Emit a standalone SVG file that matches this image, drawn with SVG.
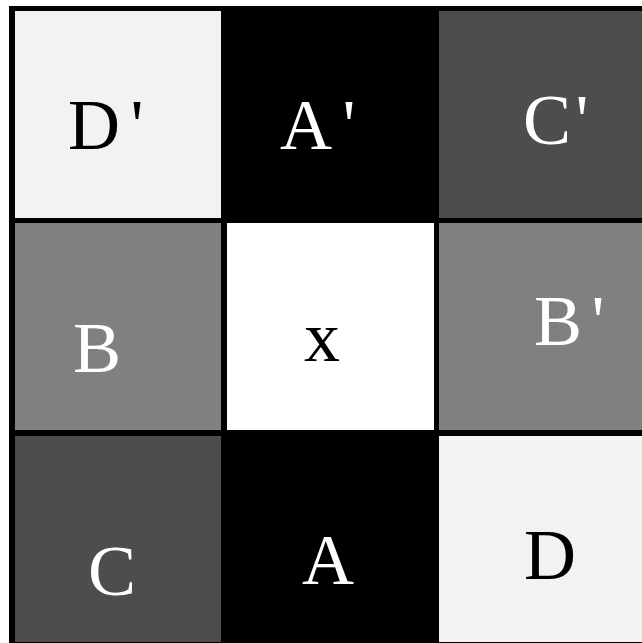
<svg xmlns="http://www.w3.org/2000/svg" width="642" height="643" viewBox="0 0 642 643">
<style>
text{font-family:"Liberation Serif","DejaVu Serif",serif;font-size:72px;text-anchor:middle}
.lt{fill:#f2f2f2}.dk{fill:#4d4d4d}.md{fill:#808080}.bk{fill:#000}.wh{fill:#fff}
.tb{fill:#000}.tw{fill:#fff}
</style>
<rect x="0" y="0" width="642" height="643" fill="#fff"/>
<rect x="9" y="6" width="633" height="637" fill="#000"/>
<g id="cell-Dp"><rect class="lt" x="15" y="11" width="206" height="207"/><text class="tb" y="149"><tspan x="94">D</tspan><tspan x="137">'</tspan></text></g>
<g id="cell-Ap"><rect class="bk" x="227" y="11" width="207" height="207"/><text class="tw" y="149"><tspan x="306">A</tspan><tspan x="349">'</tspan></text></g>
<g id="cell-Cp"><rect class="dk" x="439" y="11" width="203" height="207"/><text class="tw" y="144"><tspan x="547">C</tspan><tspan x="582">'</tspan></text></g>
<g id="cell-B"><rect class="md" x="15" y="223" width="206" height="207"/><text class="tw" x="97" y="372">B</text></g>
<g id="cell-x"><rect class="wh" x="227" y="223" width="207" height="207"/><text class="tb" x="322" y="361">x</text></g>
<g id="cell-Bp"><rect class="md" x="439" y="223" width="203" height="207"/><text class="tw" y="345"><tspan x="558">B</tspan><tspan x="598">'</tspan></text></g>
<g id="cell-C"><rect class="dk" x="15" y="436" width="206" height="206"/><text class="tw" x="112" y="595">C</text></g>
<g id="cell-A"><rect class="bk" x="227" y="436" width="207" height="206"/><text class="tw" x="328" y="584">A</text></g>
<g id="cell-D"><rect class="lt" x="439" y="436" width="203" height="206"/><text class="tb" x="550" y="579">D</text></g>
</svg>
